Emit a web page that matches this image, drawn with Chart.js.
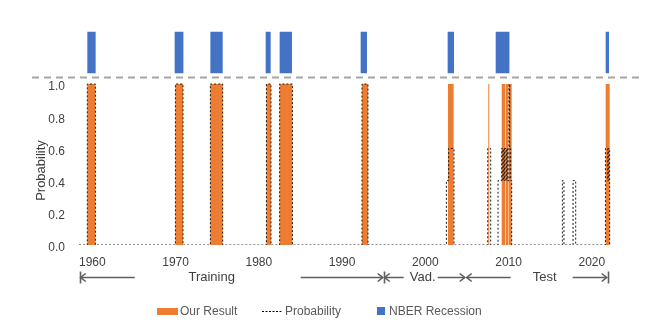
<!DOCTYPE html>
<html>
<head>
<meta charset="utf-8">
<script src="https://cdn.jsdelivr.net/npm/chart.js@4.4.1/dist/chart.umd.min.js"></script>
<style>
  html, body { margin: 0; padding: 0; background: #fff; }
</style>
</head>
<body>
<canvas id="chart" width="654" height="334"></canvas>
<script>
// x axis range and labels (years)
const xMin = 1958.4;
const xMax = 2022.3;
const tickYears = [1960, 1970, 1980, 1990, 2000, 2010, 2020];
const probTicks = [0, 0.2, 0.4, 0.6, 0.8, 1.0];

// NBER recessions (start / end)
const nberStart = [1959.40, 1969.89, 1974.18, 1980.82, 1982.50, 1992.23, 2002.68, 2008.45, 2021.66];
const nberEnd   = [1960.40, 1970.94, 1975.66, 1981.42, 1983.98, 1992.99, 2003.44, 2010.10, 2022.06];

// our result = 1 inside these spans
const resultStart = [1959.40, 1969.98, 1974.18, 1980.91, 1982.50, 1992.39, 2002.72, 2007.56, 2009.17, 2009.69, 2010.04, 2021.66];
const resultEnd   = [1960.37, 1970.89, 1975.66, 1981.46, 1984.03, 1993.11, 2003.40, 2007.68, 2009.62, 2009.98, 2010.37, 2022.14];

// probability, step values starting at each year
const probYears = [1958.4,
  1959.40, 1960.37, 1969.98, 1970.89, 1974.18, 1975.66, 1980.91, 1981.46, 1982.50, 1984.03, 1992.39, 1993.11,
  2002.53, 2002.80, 2003.44, 2007.49, 2007.85,
  2008.73, 2009.17, 2009.29, 2009.38, 2009.50, 2009.57, 2009.69, 2009.77, 2009.89, 2010.05, 2010.13, 2010.25, 2010.37,
  2016.46, 2016.65, 2017.74, 2018.06,
  2021.63, 2021.90, 2021.99, 2022.14, 2022.3];
const probValues = [0,
  1, 0, 1, 0, 1, 0, 1, 0, 1, 0, 1, 0,
  0.4, 0.6, 0, 0.6, 0,
  0.4, 0.6, 0.4, 0.6, 0.4, 0.6, 0.4, 0.6, 0.4, 1.0, 0.6, 0.4, 0,
  0.4, 0, 0.4, 0,
  0.6, 0.4, 0.6, 0, 0];

// sample split
const periodNames = ['Training', 'Vad.', 'Test'];
const periodBounds = [1958.48, 1995.0, 2004.85, 2021.9];
const periodTextAt = [1974.34, 1999.68, 2014.34];
const periodGaps = [[1965.09, 1985.03], [1997.40, 2001.48], [2010.25, 2017.70]];

const ORANGE = '#ED7D31';
const BLUE = '#4472C4';
const TEXT = '#404040';

Chart.defaults.font.family = "'Liberation Sans', Arial, sans-serif";
Chart.defaults.font.size = 12;

function pulses(starts, ends) {
  const pts = [{ x: xMin, y: 0 }];
  starts.forEach((s, i) => {
    pts.push({ x: s, y: 1 });
    pts.push({ x: ends[i], y: 0 });
  });
  pts.push({ x: xMax, y: 0 });
  return pts;
}

function arrowHead(ctx, x, y, dir) {
  ctx.beginPath();
  ctx.moveTo(x - dir * 5, y - 4);
  ctx.lineTo(x, y);
  ctx.lineTo(x - dir * 5, y + 4);
  ctx.stroke();
}

const extras = {
  id: 'extras',
  afterDraw(chart) {
    const ctx = chart.ctx;
    const xs = chart.scales.x;
    const ys = chart.scales.y;
    ctx.save();

    // dashed separator between recession band and plot
    const sepY = Math.round(ys.getPixelForValue(1.045)) + 0.5;
    ctx.strokeStyle = '#A6A6A6';
    ctx.lineWidth = 2;
    ctx.setLineDash([7, 5]);
    ctx.beginPath();
    ctx.moveTo(32, sepY);
    ctx.lineTo(640, sepY);
    ctx.stroke();
    ctx.setLineDash([]);

    // y title
    ctx.fillStyle = TEXT;
    ctx.font = "13px 'Liberation Sans', Arial, sans-serif";
    ctx.textAlign = 'center';
    ctx.textBaseline = 'middle';
    ctx.save();
    ctx.translate(41, (ys.getPixelForValue(0) + ys.getPixelForValue(1)) / 2 + 6);
    ctx.rotate(-Math.PI / 2);
    ctx.fillText('Probability', 0, 0);
    ctx.restore();

    // period arrows
    const ay = 277.5;
    ctx.strokeStyle = '#5F5F5F';
    ctx.lineWidth = 1.6;
    periodNames.forEach((name, i) => {
      const a = xs.getPixelForValue(periodBounds[i]) + 1;
      const b = xs.getPixelForValue(periodBounds[i + 1]) - 1;
      const g0 = xs.getPixelForValue(periodGaps[i][0]);
      const g1 = xs.getPixelForValue(periodGaps[i][1]);
      ctx.beginPath();
      ctx.moveTo(a, ay); ctx.lineTo(g0, ay);
      ctx.moveTo(g1, ay); ctx.lineTo(b, ay);
      ctx.stroke();
      arrowHead(ctx, a, ay, -1);
      arrowHead(ctx, b, ay, 1);
      ctx.fillStyle = TEXT;
      ctx.font = "13px 'Liberation Sans', Arial, sans-serif";
      ctx.fillText(name, xs.getPixelForValue(periodTextAt[i]), ay);
    });
    [periodBounds[0], periodBounds[1], periodBounds[3]].forEach(v => {
      const px = Math.round(xs.getPixelForValue(v)) + 0.5;
      ctx.beginPath();
      ctx.moveTo(px, ay - 6);
      ctx.lineTo(px, ay + 6);
      ctx.stroke();
    });

    // legend
    const ly = 311;
    ctx.font = "12px 'Liberation Sans', Arial, sans-serif";
    ctx.textAlign = 'left';
    ctx.fillStyle = ORANGE;
    ctx.fillRect(157, ly - 3, 21, 7);
    ctx.strokeStyle = '#000';
    ctx.lineWidth = 1;
    ctx.setLineDash([2, 1.5]);
    ctx.beginPath();
    ctx.moveTo(262, ly + 0.5);
    ctx.lineTo(283, ly + 0.5);
    ctx.stroke();
    ctx.setLineDash([]);
    ctx.fillStyle = BLUE;
    ctx.fillRect(377, ly - 4, 8, 8);
    ctx.fillStyle = '#595959';
    ctx.fillText('Our Result', 180, ly + 1);
    ctx.fillText('Probability', 285, ly + 1);
    ctx.fillText('NBER Recession', 389, ly + 1);

    ctx.restore();
  }
};

new Chart(document.getElementById('chart'), {
  type: 'line',
  data: {
    datasets: [
      {
        label: 'Probability',
        data: probYears.map((x, i) => ({ x: x, y: probValues[i] })),
        yAxisID: 'y',
        stepped: true,
        fill: false,
        borderColor: '#1a1a1a',
        borderWidth: 1,
        borderDash: [2, 2],
        pointRadius: 0
      },
      {
        label: 'Our Result',
        data: pulses(resultStart, resultEnd),
        yAxisID: 'y',
        stepped: true,
        fill: 'origin',
        backgroundColor: ORANGE,
        borderColor: 'rgba(0,0,0,0)',
        borderWidth: 1,
        pointRadius: 0
      },
      {
        label: 'NBER Recession',
        data: pulses(nberStart, nberEnd),
        yAxisID: 'yN',
        stepped: true,
        fill: 'origin',
        backgroundColor: BLUE,
        borderColor: 'rgba(0,0,0,0)',
        borderWidth: 1,
        pointRadius: 0
      }
    ]
  },
  options: {
    responsive: false,
    animation: false,
    layout: { padding: { top: 29, right: 43, left: 0, bottom: 0 } },
    plugins: {
      legend: { display: false },
      tooltip: { enabled: false }
    },
    scales: {
      x: {
        type: 'linear',
        min: xMin,
        max: xMax,
        bounds: 'data',
        grid: { display: false },
        border: { display: false },
        afterBuildTicks: s => { s.ticks = tickYears.map(v => ({ value: v })); },
        afterFit: s => { s.height = 89; },
        ticks: {
          color: TEXT,
          padding: 2,
          maxRotation: 0,
          autoSkip: false,
          callback: v => String(v)
        }
      },
      y: {
        min: 0,
        max: 1.342,
        bounds: 'data',
        grid: { display: false },
        border: { display: false },
        afterBuildTicks: s => { s.ticks = probTicks.map(v => ({ value: v })); },
        afterFit: s => { s.width = 79; },
        ticks: {
          color: TEXT,
          padding: 6,
          labelOffset: 3,
          callback: v => v.toFixed(1)
        }
      },
      yN: {
        display: false,
        min: -4.128,
        max: 1.064
      }
    }
  },
  plugins: [extras]
});
</script>
</body>
</html>
